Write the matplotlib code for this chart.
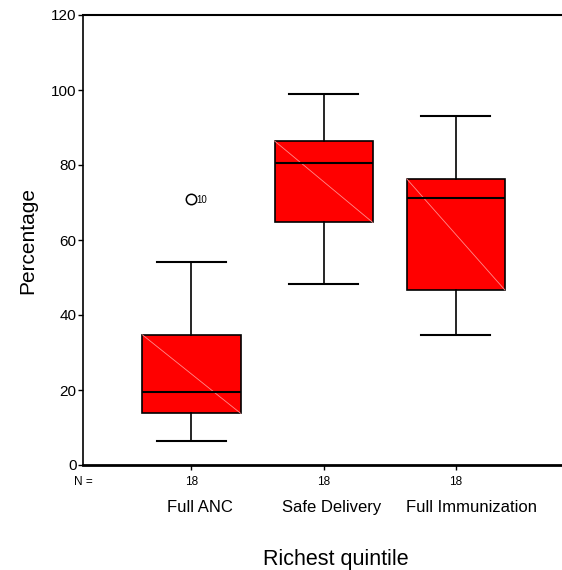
import matplotlib
matplotlib.use('Agg')
import matplotlib.pyplot as plt
from matplotlib.transforms import ScaledTranslation, blended_transform_factory

# ---- data ----
categories = ['Full ANC', 'Safe Delivery', 'Full Immunization']
n_counts = [18, 18, 18]
whisker_low = [6.3, 48.3, 34.7]
q1 = [13.8, 64.7, 46.7]
median = [19.5, 80.5, 71.3]
q3 = [34.7, 86.4, 76.3]
whisker_high = [54.2, 98.9, 93.1]
outliers = [[70.9], [], []]
outlier_ids = [['10'], [], []]
y_ticks = [0, 20, 40, 60, 80, 100, 120]

plt.rcParams['font.family'] = ['Liberation Sans', 'DejaVu Sans']

W, H = 562, 570
fig = plt.figure(figsize=(W / 100, H / 100), dpi=100)
ax = fig.add_axes([83 / W, 105 / H, 479 / W, 450 / H])

positions = list(range(1, len(categories) + 1))
stats = []
for i in range(len(categories)):
    stats.append(dict(med=median[i], q1=q1[i], q3=q3[i],
                      whislo=whisker_low[i], whishi=whisker_high[i],
                      fliers=outliers[i]))

box_w = 0.742
ax.bxp(stats, positions=positions, widths=box_w, capwidths=0.52,
       patch_artist=True, showfliers=True,
       boxprops=dict(facecolor='#ff0000', edgecolor='black', linewidth=1.2),
       medianprops=dict(color='black', linewidth=1.5, zorder=4),
       whiskerprops=dict(color='black', linewidth=1.2),
       capprops=dict(color='black', linewidth=1.5),
       flierprops=dict(marker='o', markerfacecolor='none',
                       markeredgecolor='black', markersize=7.5,
                       markeredgewidth=1.1))

# faint diagonal artefact inside each box
for i, p in enumerate(positions):
    ax.plot([p - box_w / 2, p + box_w / 2], [q3[i], q1[i]],
            color='#ff8c8c', linewidth=0.6, zorder=3)

# outlier case labels
for i, p in enumerate(positions):
    for val, lab in zip(outliers[i], outlier_ids[i]):
        ax.annotate(lab, (p, val), xytext=(3.5, -0.5),
                    textcoords='offset points', fontsize=7,
                    ha='left', va='center')

ax.set_xlim(0.179, 3.804)
ax.set_ylim(0, 120)
ax.set_yticks(y_ticks)
ax.set_xticks(positions)
ax.set_xticklabels([''] * len(positions))
ax.tick_params(axis='y', length=3.5, width=1, labelsize=11, pad=1)
ax.tick_params(axis='x', length=3.5, width=1, pad=1)

ax.spines['right'].set_visible(False)
ax.spines['top'].set_linewidth(1.5)
ax.spines['bottom'].set_linewidth(2)
ax.spines['left'].set_linewidth(1.2)

# N row and category labels
trans_xfig = blended_transform_factory(ax.transData, fig.transFigure)
fig.text(83 / W, 1 - 485 / H, 'N =', ha='center', va='baseline', fontsize=8.5)
for p, n in zip(positions, n_counts):
    ax.text(p, 1 - 485 / H, str(n), transform=trans_xfig,
            ha='center', va='baseline', fontsize=8.5)

label_dx_px = [8.5, 8.3, 15.7]
for p, cat, dx in zip(positions, categories, label_dx_px):
    t = trans_xfig + ScaledTranslation(dx / 100, 0, fig.dpi_scale_trans)
    ax.text(p, 1 - 512 / H, cat, transform=t, ha='center', va='baseline',
            fontsize=12)

fig.text(33 / W, 1 - 240 / H, 'Percentage', rotation=90,
         rotation_mode='anchor', ha='center', va='baseline', fontsize=15)
fig.text(335.5 / W, 1 - 565 / H, 'Richest quintile', ha='center',
         va='baseline', fontsize=15.5)

fig.savefig('out.png', dpi=100)
